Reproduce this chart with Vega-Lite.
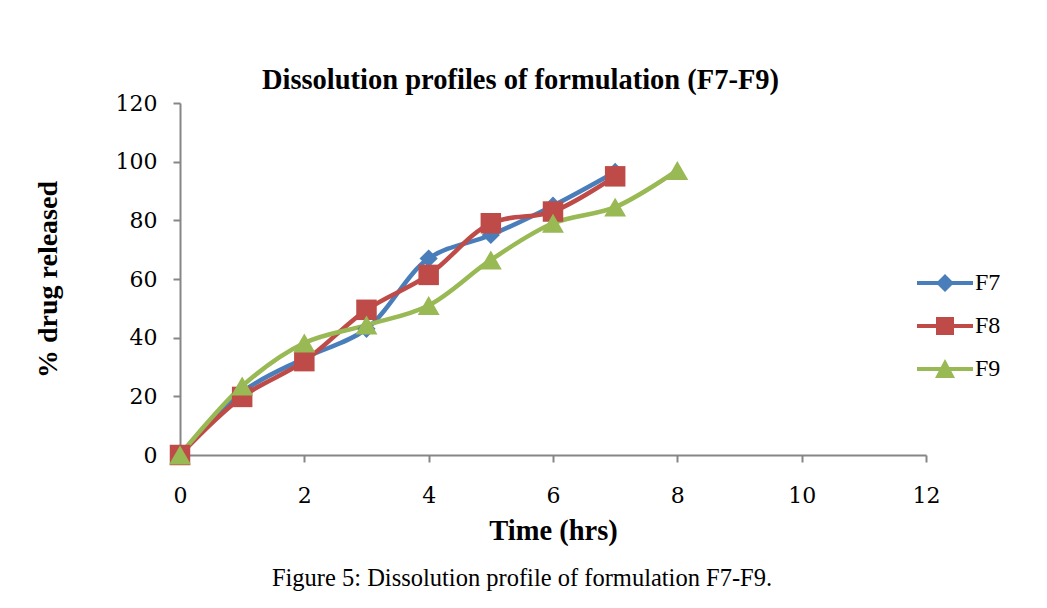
{
  "$schema": "https://vega.github.io/schema/vega-lite/v6.json",
  "width": 746,
  "height": 352,
  "autosize": "none",
  "padding": {"left": 180, "top": 103, "right": 121, "bottom": 153},
  "background": "white",
  "title": {
    "text": "Figure 5: Dissolution profile of formulation F7-F9.",
    "orient": "bottom",
    "anchor": "middle",
    "font": "Liberation Serif",
    "fontSize": 24.5,
    "fontWeight": "normal",
    "color": "black",
    "offset": 22,
    "dx": -31
  },
  "config": {
    "view": {"stroke": null},
    "axis": {"grid": false}
  },
  "data": {
    "values": [
      {"series": "F7", "time": 0, "release": 0},
      {"series": "F7", "time": 1, "release": 21.5},
      {"series": "F7", "time": 2, "release": 33},
      {"series": "F7", "time": 3, "release": 43},
      {"series": "F7", "time": 4, "release": 67},
      {"series": "F7", "time": 5, "release": 75},
      {"series": "F7", "time": 6, "release": 85},
      {"series": "F7", "time": 7, "release": 96.5},
      {"series": "F8", "time": 0, "release": 0},
      {"series": "F8", "time": 1, "release": 19.8},
      {"series": "F8", "time": 2, "release": 32},
      {"series": "F8", "time": 3, "release": 49.5},
      {"series": "F8", "time": 4, "release": 61.4},
      {"series": "F8", "time": 5, "release": 79},
      {"series": "F8", "time": 6, "release": 83},
      {"series": "F8", "time": 7, "release": 95},
      {"series": "F9", "time": 0, "release": 0},
      {"series": "F9", "time": 1, "release": 23.5},
      {"series": "F9", "time": 2, "release": 38.2},
      {"series": "F9", "time": 3, "release": 44.3},
      {"series": "F9", "time": 4, "release": 51},
      {"series": "F9", "time": 5, "release": 66.5},
      {"series": "F9", "time": 6, "release": 79},
      {"series": "F9", "time": 7, "release": 84.5},
      {"series": "F9", "time": 8, "release": 97}
    ]
  },
  "resolve": {"axis": {"x": "independent"}},
  "layer": [
    {
      "mark": {"type": "line", "interpolate": "catmull-rom", "strokeWidth": 4.5},
      "encoding": {
        "x": {
          "field": "time", "type": "quantitative",
          "scale": {"domain": [0, 12], "nice": false},
          "axis": {
            "values": [0, 2, 4, 6, 8, 10, 12],
            "title": "Time (hrs)",
            "labelFont": "DejaVu Serif", "labelFontSize": 22, "labelColor": "black",
            "labelPadding": 23, "labelFlush": false,
            "titleFont": "Liberation Serif", "titleFontSize": 28.5, "titleFontWeight": "bold", "titleColor": "black",
            "titlePadding": 10,
            "domainColor": "#868686", "domainWidth": 2,
            "tickColor": "#868686", "tickWidth": 2, "tickSize": 7
          }
        },
        "y": {
          "field": "release", "type": "quantitative",
          "scale": {"domain": [0, 120], "nice": false},
          "axis": {
            "values": [0, 20, 40, 60, 80, 100, 120],
            "title": "% drug released",
            "labelFont": "DejaVu Serif", "labelFontSize": 22, "labelColor": "black",
            "labelPadding": 16, "labelFlush": false,
            "titleFont": "Liberation Serif", "titleFontSize": 28, "titleFontWeight": "bold", "titleColor": "black",
            "titlePadding": 53,
            "domainColor": "#868686", "domainWidth": 2,
            "tickColor": "#868686", "tickWidth": 2, "tickSize": 7
          }
        },
        "color": {
          "field": "series", "type": "nominal",
          "scale": {"domain": ["F7", "F8", "F9"], "range": ["#4A7EBB", "#BE4B48", "#98B954"]},
          "legend": {"orient": "none", "legendX": 745, "legendY": 160, "title": null, "labelFont": "Liberation Serif", "labelFontSize": 24, "labelColor": "black", "symbolSize": 1600, "labelOffset": 10, "rowPadding": 11, "symbolStrokeWidth": 0}
        }
      }
    },
    {
      "mark": {"type": "point", "filled": true, "opacity": 1},
      "encoding": {
        "x": {"field": "time", "type": "quantitative", "axis": null},
        "y": {
          "field": "release", "type": "quantitative",
          "axis": {
            "values": [0, 20, 40, 60, 80, 100, 120],
            "title": "% drug released",
            "labelFont": "DejaVu Serif", "labelFontSize": 22, "labelColor": "black",
            "labelPadding": 16, "labelFlush": false,
            "titleFont": "Liberation Serif", "titleFontSize": 28, "titleFontWeight": "bold", "titleColor": "black",
            "titlePadding": 53,
            "domainColor": "#868686", "domainWidth": 2,
            "tickColor": "#868686", "tickWidth": 2, "tickSize": 7
          }
        },
        "color": {
          "field": "series", "type": "nominal",
          "legend": {"orient": "none", "legendX": 745, "legendY": 160, "title": null, "labelFont": "Liberation Serif", "labelFontSize": 24, "labelColor": "black", "symbolSize": 1600, "labelOffset": 10, "rowPadding": 11, "symbolStrokeWidth": 0}
        },
        "shape": {
          "condition": [
            {"test": "datum.series === 'F7'", "value": "diamond"},
            {"test": "datum.series === 'F8'", "value": "square"}
          ],
          "value": "triangle-up"
        },
        "size": {
          "condition": [
            {"test": "datum.series === 'F7'", "value": 330},
            {"test": "datum.series === 'F8'", "value": 420}
          ],
          "value": 480
        }
      }
    },
    {
      "transform": [{"filter": "false"}],
      "mark": {"type": "point", "filled": true, "opacity": 1},
      "encoding": {
        "x": {
          "field": "time", "type": "quantitative",
          "axis": {
            "orient": "top", "labels": false, "ticks": false, "domain": false,
            "title": "Dissolution profiles of formulation (F7-F9)",
            "titleFont": "Liberation Serif", "titleFontSize": 28.5, "titleFontWeight": "bold", "titleColor": "black",
            "titlePadding": 9, "titleX": 340
          }
        },
        "color": {
          "field": "series", "type": "nominal",
          "legend": {"orient": "none", "legendX": 745, "legendY": 160, "title": null, "labelFont": "Liberation Serif", "labelFontSize": 24, "labelColor": "black", "symbolSize": 1600, "labelOffset": 10, "rowPadding": 11, "symbolStrokeWidth": 0}
        },
        "shape": {
          "field": "series", "type": "nominal",
          "scale": {
            "domain": ["F7", "F8", "F9"],
            "range": [
              "M-1.4,-0.1L1.4,-0.1L1.4,0.1L-1.4,0.1Z M0,-0.45L0.45,0L0,0.45L-0.45,0Z",
              "M-1.4,-0.1L1.4,-0.1L1.4,0.1L-1.4,0.1Z M-0.45,-0.45L0.45,-0.45L0.45,0.45L-0.45,0.45Z",
              "M-1.4,-0.1L1.4,-0.1L1.4,0.1L-1.4,0.1Z M0,-0.5L0.5,0.45L-0.5,0.45Z"
            ]
          },
          "legend": {"orient": "none", "legendX": 745, "legendY": 160, "title": null, "labelFont": "Liberation Serif", "labelFontSize": 24, "labelColor": "black", "symbolSize": 1600, "labelOffset": 10, "rowPadding": 11, "symbolStrokeWidth": 0}
        }
      }
    }
  ]
}
